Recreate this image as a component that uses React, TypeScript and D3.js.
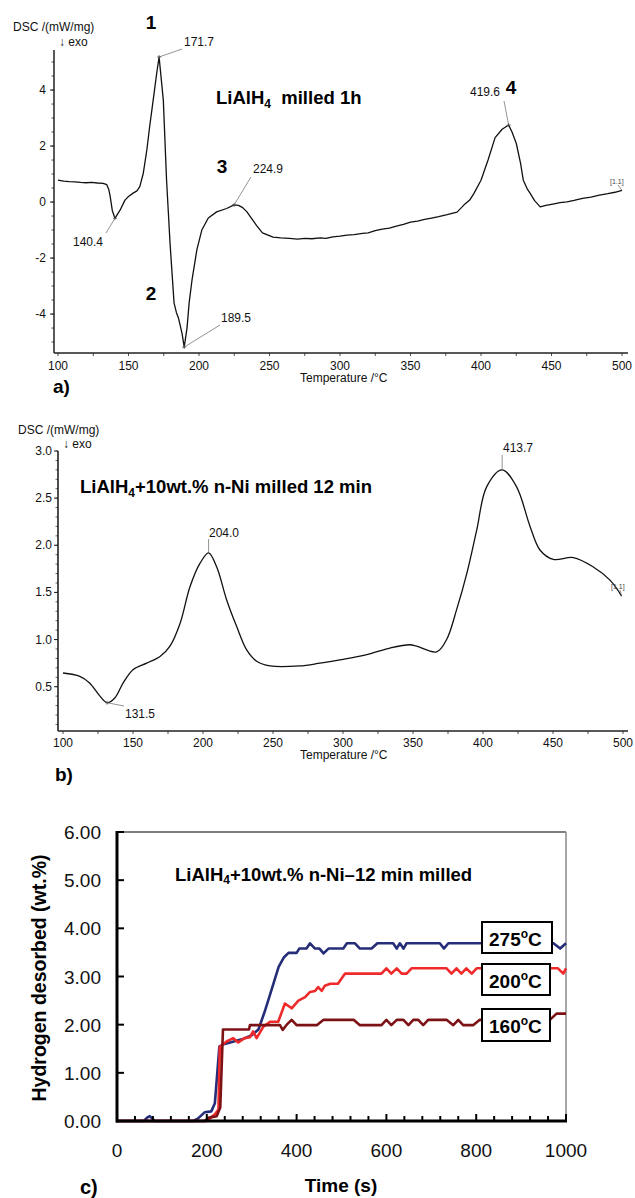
import React from 'react';
import * as d3 from 'd3';

// ---------- DATA ----------
const tempTicks = [100, 150, 200, 250, 300, 350, 400, 450, 500];
const dscATicks = [-4, -2, 0, 2, 4];
const dscBTicks = [0.5, 1.0, 1.5, 2.0, 2.5, 3.0];
const timeTicks = [0, 200, 400, 600, 800, 1000];
const h2Ticks = [0, 1, 2, 3, 4, 5, 6];

// Panel a: DSC of LiAlH4 milled 1h  [T (°C), DSC (mW/mg)]
const dscA: [number, number][] = [
  [100, 0.78], [104, 0.75], [108, 0.73], [112, 0.72], [116, 0.7], [120, 0.69], [124, 0.7],
  [128, 0.68], [132, 0.67], [134.6, 0.62], [136, 0.45], [137, 0.2], [138.5, -0.3], [140.4, -0.58],
  [142, -0.45], [144, -0.29], [147.5, 0.07], [150, 0.2], [153, 0.31], [156, 0.4], [158, 0.55],
  [160.5, 1.03], [163, 1.86], [165, 2.69], [167.5, 3.64], [170, 4.6], [171.7, 5.18],
  [174.7, 3.64], [177, 0.78], [179.5, -1.5], [182.3, -3.6], [184, -3.95], [185.5, -4.15],
  [188, -4.7], [189.5, -5.18], [191.5, -4.5], [193, -3.6], [195, -2.8], [198.5, -1.7],
  [202, -1.0], [206.6, -0.57], [212.5, -0.35], [219.6, -0.23], [224.9, -0.1], [228, -0.12],
  [231, -0.2], [234, -0.35], [238, -0.64], [241, -0.85], [245, -1.1], [252.5, -1.25],
  [258, -1.28], [264, -1.3], [270, -1.32], [275, -1.3], [280, -1.31], [286, -1.28],
  [290, -1.3], [295, -1.24], [300, -1.22], [305, -1.18], [310, -1.16], [316, -1.12],
  [320, -1.1], [325, -1.02], [330, -0.97], [335, -0.93], [340, -0.86], [345, -0.8],
  [350, -0.72], [355, -0.68], [360, -0.62], [365, -0.57], [370, -0.52], [376, -0.45],
  [383, -0.36], [388, -0.1], [392, 0.07], [395, 0.31], [400, 0.78], [405, 1.5], [410, 2.3],
  [415, 2.6], [419.6, 2.75], [422, 2.5], [425, 2.1], [428, 1.4], [430, 0.78], [433, 0.45],
  [435, 0.3], [438, 0.05], [442, -0.17], [446, -0.12], [451, -0.07], [456, -0.02],
  [461, 0.01], [466, 0.06], [472, 0.13], [478, 0.18], [484, 0.25], [490, 0.3], [495, 0.35],
  [500, 0.42],
];

// Panel b: DSC of LiAlH4 + 10wt.% n-Ni milled 12 min
const dscB: [number, number][] = [
  [100, 0.645], [112, 0.61], [119, 0.54], [126.4, 0.4], [131.5, 0.33], [137, 0.38],
  [143, 0.54], [150, 0.68], [159.8, 0.75], [169.3, 0.82], [176.4, 0.93], [183.6, 1.17],
  [190.7, 1.56], [197.9, 1.81], [204, 1.92], [209.8, 1.77], [216.9, 1.42], [224, 1.14],
  [231.2, 0.89], [238.3, 0.77], [247.9, 0.72], [269, 0.72], [283.6, 0.75], [300.2, 0.79],
  [317, 0.84], [333.6, 0.91], [347.9, 0.945], [352.6, 0.93], [366.9, 0.87], [374, 1.0],
  [381.2, 1.32], [388.4, 1.7], [395.5, 2.16], [402.6, 2.62], [413.7, 2.8], [424, 2.62],
  [433.6, 2.2], [440.7, 1.95], [450.2, 1.85], [464.5, 1.87], [478.8, 1.77], [490.7, 1.63],
  [499, 1.46],
];

// Panel c: isothermal desorption curves  [time (s), H2 (wt.%)]
const h2_275: [number, number][] = [
  [0, 0], [60, 0], [67, 0.07], [73, 0.1], [84, 0], [170, 0], [180, 0.05], [195, 0.18],
  [210, 0.2], [218, 0.37], [228, 1.55], [240, 1.6], [260, 1.65], [280, 1.7], [300, 1.78],
  [315, 1.9], [330, 2.3], [340, 2.6], [350, 2.9], [360, 3.2], [372, 3.4], [382, 3.49],
  [400, 3.49], [406, 3.58], [422, 3.58], [430, 3.69], [441, 3.58], [451, 3.58], [460, 3.48],
  [471, 3.58], [504, 3.58], [512, 3.69], [530, 3.69], [541, 3.58], [567, 3.58], [580, 3.69],
  [615, 3.69], [623, 3.58], [630, 3.69], [638, 3.58], [645, 3.69], [719, 3.69], [728, 3.58],
  [738, 3.69], [972, 3.69], [987, 3.58], [1000, 3.69],
];
const h2_200: [number, number][] = [
  [0, 0], [200, 0], [218, 0.14], [226, 0.24], [229, 1.54], [244, 1.65], [259, 1.72],
  [270, 1.63], [284, 1.72], [296, 1.74], [303, 1.86], [311, 1.72], [326, 1.96], [341, 2.06],
  [359, 2.06], [374, 2.44], [389, 2.34], [404, 2.5], [419, 2.57], [430, 2.68], [441, 2.7],
  [448, 2.78], [456, 2.7], [463, 2.81], [475, 2.85], [492, 2.85], [508, 3.06], [589, 3.06],
  [600, 3.17], [611, 3.06], [623, 3.17], [634, 3.06], [645, 3.06], [656, 3.17], [734, 3.17],
  [745, 3.06], [756, 3.17], [767, 3.06], [778, 3.17], [790, 3.06], [801, 3.17], [982, 3.17],
  [994, 3.06], [1000, 3.17],
];
const h2_160: [number, number][] = [
  [0, 0], [195, 0], [205, 0.07], [222, 0.1], [230, 0.28], [236, 1.9], [294, 1.9],
  [296, 1.99], [363, 1.99], [369, 1.89], [378, 2.0], [389, 2.1], [400, 1.99], [445, 1.99],
  [460, 2.1], [527, 2.1], [541, 1.99], [589, 1.99], [600, 2.1], [611, 1.99], [623, 2.1],
  [638, 2.1], [649, 1.99], [660, 2.1], [671, 2.1], [682, 1.99], [693, 2.1], [734, 2.1],
  [749, 1.99], [760, 2.1], [771, 1.99], [793, 1.99], [808, 2.1], [964, 2.1], [979, 2.23],
  [1000, 2.23],
];
const seriesNames = ['275', '200', '160'];
const seriesColors = ['#262d78', '#f02a2a', '#7d1216'];

// ---------- COMPONENT ----------
const FONT = "Arial, 'Liberation Sans', Helvetica, sans-serif";

export default function App() {
  const xA = d3.scaleLinear().domain([100, 500]).range([58, 622]);
  const yA = d3.scaleLinear().domain([-5.39, 5.43]).range([353, 50]);
  const xB = d3.scaleLinear().domain([100, 500]).range([63, 623]);
  const yB = d3.scaleLinear().domain([0.03, 3.0]).range([731, 451]);
  const xC = d3.scaleLinear().domain([0, 1000]).range([117, 566]);
  const yC = d3.scaleLinear().domain([0, 6]).range([1121, 832]);

  const lineA = d3.line<[number, number]>().x(d => xA(d[0])).y(d => yA(d[1]));
  const lineB = d3.line<[number, number]>().x(d => xB(d[0])).y(d => yB(d[1])).curve(d3.curveCatmullRom.alpha(0.5));
  const lineC = d3.line<[number, number]>().x(d => xC(d[0])).y(d => yC(d[1]));

  const minorTemp = d3.range(100, 501, 25);
  const minorA = d3.range(-5, 5.01, 0.5);
  const minorB = d3.range(0.1, 3.001, 0.1);
  const minorTime = d3.range(0, 1001, 40);

  const axisCol = '#222';
  const smallTxt = { fontFamily: FONT, fontSize: 12, fill: '#111' } as const;

  const peakMark = (x: number, y: number) => (
    <g stroke="#555" strokeWidth={0.8}>
      <line x1={x - 2} x2={x + 2} y1={y} y2={y} />
      <line x1={x} x2={x} y1={y - 2} y2={y + 2} />
    </g>
  );

  const seriesData = [h2_275, h2_200, h2_160];
  const boxes = [
    { y: 922, h: 31, w: 70 },
    { y: 964, h: 31, w: 68 },
    { y: 1009, h: 32, w: 68 },
  ];

  return (
    <svg width={635} height={1198} style={{ position: 'absolute', left: 0, top: 0, background: '#fff' }}>
      <rect x={0} y={0} width={635} height={1198} fill="#fff" />

      {/* ================= Panel a ================= */}
      <text x={13} y={31} {...smallTxt}>DSC /(mW/mg)</text>
      <text x={59} y={46} {...smallTxt}>↓ exo</text>
      <line x1={54} x2={54} y1={50} y2={353} stroke={axisCol} strokeWidth={1.5} />
      <line x1={54} x2={628} y1={353} y2={353} stroke={axisCol} strokeWidth={1.5} />
      {minorA.map(v => (
        <line key={'ma' + v} x1={51.5} x2={54} y1={yA(v)} y2={yA(v)} stroke={axisCol} strokeWidth={0.8} />
      ))}
      {dscATicks.map(v => (
        <g key={'ta' + v}>
          <line x1={50} x2={54} y1={yA(v)} y2={yA(v)} stroke={axisCol} strokeWidth={1} />
          <text x={46} y={yA(v) + 4} textAnchor="end" {...smallTxt}>{v < 0 ? '-' + Math.abs(v) : v}</text>
        </g>
      ))}
      {minorTemp.map(t => (
        <line key={'mta' + t} x1={xA(t)} x2={xA(t)} y1={353} y2={356} stroke={axisCol} strokeWidth={0.8} />
      ))}
      {tempTicks.map(t => (
        <text key={'xa' + t} x={xA(t)} y={370} textAnchor="middle" {...smallTxt}>{t}</text>
      ))}
      <text x={300} y={382} {...smallTxt}>Temperature /°C</text>
      <path d={lineA(dscA) || ''} fill="none" stroke="#111" strokeWidth={1.3} strokeLinejoin="round" />

      <g stroke="#666" strokeWidth={0.7}>
        <line x1={xA(171.7)} y1={yA(5.18)} x2={182} y2={49} />
        <line x1={xA(140.4)} y1={yA(-0.58)} x2={106} y2={233} />
        <line x1={xA(189.5)} y1={yA(-5.18)} x2={220} y2={325} />
        <line x1={xA(224.9)} y1={yA(-0.1)} x2={251} y2={177} />
        <line x1={xA(419.6)} y1={yA(2.75)} x2={504} y2={101} />
        <line x1={xA(500)} y1={yA(0.42)} x2={618} y2={185} />
      </g>
      {peakMark(xA(171.7), yA(5.18))}
      {peakMark(xA(140.4), yA(-0.58))}
      {peakMark(xA(189.5), yA(-5.18))}
      {peakMark(xA(224.9), yA(-0.1))}
      {peakMark(xA(419.6), yA(2.75))}
      <text x={184} y={46} {...smallTxt}>171.7</text>
      <text x={73} y={246} {...smallTxt}>140.4</text>
      <text x={221} y={322} {...smallTxt}>189.5</text>
      <text x={253} y={173} {...smallTxt}>224.9</text>
      <text x={470} y={96} {...smallTxt}>419.6</text>
      <text x={610} y={184} fontFamily={FONT} fontSize={7} fill="#444">[1.1]</text>
      <g fontFamily={FONT} fontWeight="bold" fontSize={19} fill="#000" textAnchor="middle">
        <text x={151} y={29}>1</text>
        <text x={151} y={300}>2</text>
        <text x={222} y={173}>3</text>
        <text x={511} y={94}>4</text>
      </g>
      <text x={216} y={104} fontFamily={FONT} fontWeight="bold" fontSize={18.5} fill="#000">
        LiAlH<tspan fontSize={12} dy={4}>4</tspan><tspan dy={-4}>{'\u00a0\u00a0'}milled 1h</tspan>
      </text>
      <text x={53} y={393} fontFamily={FONT} fontWeight="bold" fontSize={19} fill="#000">a)</text>

      {/* ================= Panel b ================= */}
      <text x={18} y={434} {...smallTxt}>DSC /(mW/mg)</text>
      <text x={63} y={448} {...smallTxt}>↓ exo</text>
      <line x1={58} x2={58} y1={451} y2={731} stroke={axisCol} strokeWidth={1.6} />
      <line x1={58} x2={628} y1={731} y2={731} stroke={axisCol} strokeWidth={1.5} />
      {minorB.map(v => (
        <line key={'mb' + v} x1={55.5} x2={58} y1={yB(v)} y2={yB(v)} stroke={axisCol} strokeWidth={0.7} />
      ))}
      {dscBTicks.map(v => (
        <g key={'tb' + v}>
          <line x1={54} x2={58} y1={yB(v)} y2={yB(v)} stroke={axisCol} strokeWidth={1} />
          <text x={52} y={yB(v) + 4} textAnchor="end" {...smallTxt}>{v.toFixed(1)}</text>
        </g>
      ))}
      {minorTemp.map(t => (
        <line key={'mtb' + t} x1={xB(t)} x2={xB(t)} y1={731} y2={734} stroke={axisCol} strokeWidth={0.8} />
      ))}
      {tempTicks.map(t => (
        <text key={'xb' + t} x={xB(t)} y={747} textAnchor="middle" {...smallTxt}>{t}</text>
      ))}
      <text x={300} y={759} {...smallTxt}>Temperature /°C</text>
      <path d={lineB(dscB) || ''} fill="none" stroke="#111" strokeWidth={1.3} />
      <g stroke="#666" strokeWidth={0.7}>
        <line x1={xB(204)} x2={xB(204)} y1={539} y2={yB(1.92)} />
        <line x1={xB(413.7)} x2={xB(413.7)} y1={455} y2={yB(2.8)} />
        <line x1={xB(131.5)} y1={yB(0.33)} x2={124} y2={706} />
        <line x1={xB(499)} y1={yB(1.46)} x2={620} y2={590} />
      </g>
      {peakMark(xB(131.5), yB(0.33))}
      <text x={209} y={537} {...smallTxt}>204.0</text>
      <text x={503} y={452} {...smallTxt}>413.7</text>
      <text x={125} y={718} {...smallTxt}>131.5</text>
      <text x={611} y={589} fontFamily={FONT} fontSize={7} fill="#444">[1.1]</text>
      <text x={80} y={493} fontFamily={FONT} fontWeight="bold" fontSize={18.5} fill="#000">
        LiAlH<tspan fontSize={12} dy={4}>4</tspan><tspan dy={-4}>+10wt.% n-Ni milled 12 min</tspan>
      </text>
      <text x={55} y={781} fontFamily={FONT} fontWeight="bold" fontSize={19} fill="#000">b)</text>

      {/* ================= Panel c ================= */}
      <line x1={117} x2={566} y1={832} y2={832} stroke="#000" strokeWidth={1.2} />
      <line x1={566} x2={566} y1={832} y2={1121} stroke="#888" strokeWidth={1.5} />
      {seriesData.map((s, i) => (
        <path key={'s' + i} d={lineC(s) || ''} fill="none" stroke={seriesColors[i]} strokeWidth={2.6} strokeLinejoin="round" />
      ))}
      <line x1={117} x2={117} y1={831} y2={1122.5} stroke="#000" strokeWidth={3} />
      <line x1={116} x2={567} y1={1121} y2={1121} stroke="#000" strokeWidth={3} />
      {h2Ticks.map(v => (
        <g key={'tc' + v}>
          <line x1={117} x2={124} y1={yC(v)} y2={yC(v)} stroke="#000" strokeWidth={2} />
          <text x={101} y={yC(v) + 7} textAnchor="end" fontFamily={FONT} fontSize={19} fill="#111">{v.toFixed(2)}</text>
        </g>
      ))}
      {minorTime.map(t => (
        <line key={'mtc' + t} x1={xC(t)} x2={xC(t)} y1={1121} y2={t % 200 === 0 ? 1114 : 1116} stroke="#000" strokeWidth={2} />
      ))}
      {timeTicks.map(t => (
        <text key={'xc' + t} x={xC(t)} y={1157} textAnchor="middle" fontFamily={FONT} fontSize={19} fill="#111">{t}</text>
      ))}
      <text x={341} y={1192} textAnchor="middle" fontFamily={FONT} fontWeight="bold" fontSize={19} fill="#000">Time (s)</text>
      <text transform="translate(46,978) rotate(-90)" textAnchor="middle" fontFamily={FONT} fontWeight="bold" fontSize={19.5} fill="#000">
        Hydrogen desorbed (wt.%)
      </text>
      <text x={175} y={881} fontFamily={FONT} fontWeight="bold" fontSize={18.5} fill="#000">
        LiAlH<tspan fontSize={12} dy={3}>4</tspan><tspan dy={-3}>+10wt.% n-Ni–12 min milled</tspan>
      </text>
      {seriesNames.map((n, i) => (
        <g key={'lbl' + n}>
          <rect x={482} y={boxes[i].y} width={boxes[i].w} height={boxes[i].h} fill="#fff" stroke="#000" strokeWidth={2} />
          <text x={489} y={boxes[i].y + 24} fontFamily={FONT} fontWeight="bold" fontSize={19} fill="#000">
            {n}<tspan fontSize={12} dy={-8}>o</tspan><tspan dy={8}>C</tspan>
          </text>
        </g>
      ))}
      <text x={80} y={1194} fontFamily={FONT} fontWeight="bold" fontSize={20} fill="#000">c)</text>
    </svg>
  );
}
